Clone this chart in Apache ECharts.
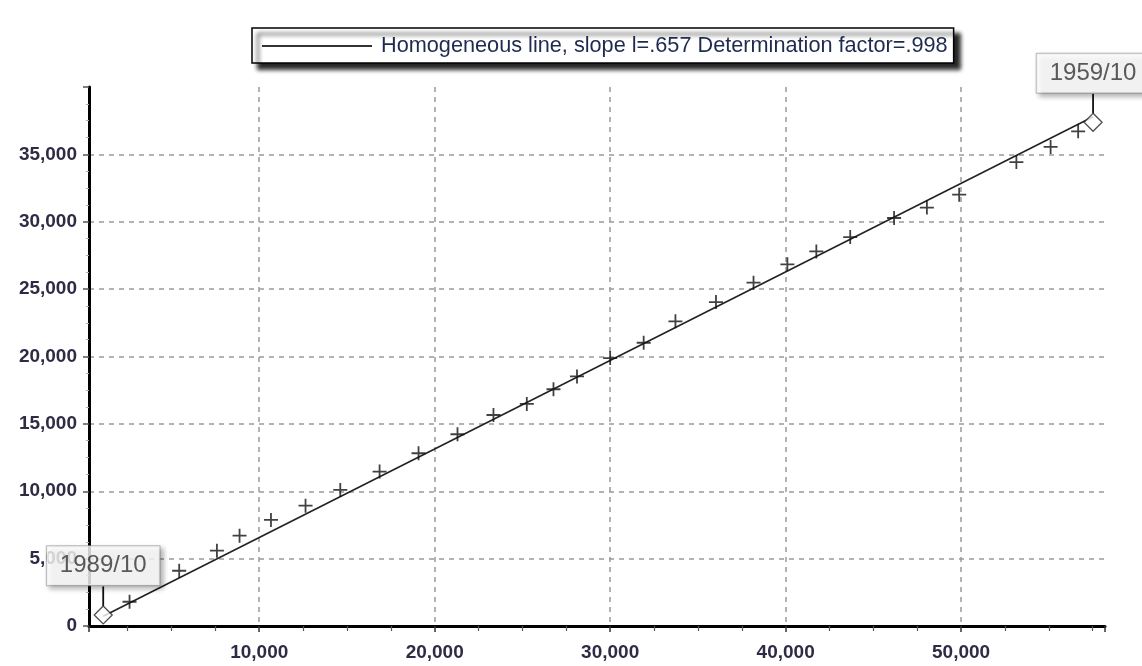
<!DOCTYPE html>
<html>
<head>
<meta charset="utf-8">
<script src="https://cdn.jsdelivr.net/npm/echarts@6/dist/echarts.min.js"></script>
<style>
html,body{margin:0;padding:0;background:#fff;}
#chart{width:1142px;height:666px;}
</style>
</head>
<body>
<div id="chart"></div>
<script>
const lineName = 'Homogeneous line, slope l=.657 Determination factor=.998';

// observed cumulative points (+ markers)
const obsX = [2610, 5440, 7590, 8880, 10670, 12640, 14620, 16860, 19080, 21300, 23350, 25250, 26770,
  28110, 30000, 31910, 33720, 36030, 38170, 40100, 41750, 43680, 46180, 48050, 49890, 53150, 55100, 56670];
const obsY = [1800, 4100, 5590, 6700, 7870, 8930, 10100, 11460, 12820, 14230, 15660, 16480, 17570,
  18520, 19880, 21020, 22610, 24040, 25480, 26840, 27800, 28860, 30280, 31050, 32010, 34430, 35550, 36710];

// first and last points (diamonds) with their period labels
const endX = [1110, 57520];
const endY = [820, 37380];
const endLabels = ['1989/10', '1959/10'];

// homogeneous line end values
const fitX = [1110, 57520];
const fitY = [730, 37790];

// axis ranges
const xMin = 300, xMax = 58200;
const yMin = 0, yMax = 40000, yStep = 5000;

const fmt = v => Math.round(v).toLocaleString('en-US');
const labelFont = { fontFamily: 'Liberation Sans, Arial, sans-serif', fontSize: 19, fontWeight: 'bold', color: '#2e2c44' };

const chart = echarts.init(document.getElementById('chart'), null, { renderer: 'canvas' });

const option = {
  backgroundColor: '#ffffff',
  animation: false,
  grid: { left: 89, right: 37, top: 87, bottom: 40, containLabel: false },
  legend: {
    data: [{ name: lineName, icon: 'rect' }],
    left: 252,
    top: 28,
    padding: [7, 6, 6, 10],
    itemWidth: 110,
    itemHeight: 2,
    itemGap: 0,
    backgroundColor: '#ffffff',
    borderColor: '#000000',
    borderWidth: 1.5,
    borderRadius: 0,
    shadowColor: 'rgba(0,0,0,0.85)',
    shadowBlur: 4,
    shadowOffsetX: 6,
    shadowOffsetY: 6,
    itemStyle: { color: '#333' },
    textStyle: { fontFamily: 'Liberation Sans, Arial, sans-serif', fontSize: 21.7, color: '#1f2a50', padding: [0, 0, 0, 4] }
  },
  xAxis: {
    type: 'value',
    min: xMin,
    max: xMax,
    splitNumber: 6,
    axisLine: { show: true, onZero: false, lineStyle: { color: '#000', width: 3 } },
    axisTick: { show: true, length: 6, lineStyle: { color: '#333', width: 1.5 } },
    minorTick: { show: true, splitNumber: 4, length: 5, lineStyle: { color: '#555', width: 1.2 } },
    axisLabel: Object.assign({ margin: 17, formatter: fmt, showMinLabel: false, showMaxLabel: false }, labelFont),
    splitLine: { show: true, showMinLine: false, showMaxLine: false, lineStyle: { color: '#9a9a9a', width: 1.5, type: [5, 5] } }
  },
  yAxis: {
    type: 'value',
    min: yMin,
    max: yMax,
    interval: yStep,
    axisLine: { show: true, onZero: false, lineStyle: { color: '#000', width: 3 } },
    axisTick: { show: true, length: 6, lineStyle: { color: '#555', width: 1.5 } },
    minorTick: { show: true, splitNumber: 4, length: 3, lineStyle: { color: '#aaa', width: 1 } },
    axisLabel: Object.assign({ margin: 12, formatter: fmt, showMaxLabel: false }, labelFont),
    splitLine: { show: true, showMaxLine: false, lineStyle: { color: '#9a9a9a', width: 1.5, type: [5, 5] } }
  },
  series: [
    {
      name: lineName,
      type: 'line',
      data: fitX.map((x, i) => [x, fitY[i]]),
      symbol: 'none',
      itemStyle: { color: '#222' },
      lineStyle: { color: '#222', width: 1.6 },
      z: 3
    },
    {
      name: 'observed',
      type: 'scatter',
      data: obsX.map((x, i) => [x, obsY[i]]),
      symbol: 'path://M0,7 L14,7 M7,0 L7,14',
      symbolSize: 14,
      itemStyle: { color: 'transparent', borderColor: '#111', borderWidth: 1.8 },
      z: 4
    },
    {
      name: 'ends',
      type: 'scatter',
      data: endX.map((x, i) => ({ value: [x, endY[i]], name: endLabels[i] })),
      symbol: 'diamond',
      symbolSize: 18,
      itemStyle: { color: '#fff', borderColor: '#222', borderWidth: 1.3 },
      label: {
        show: true,
        position: 'top',
        distance: 0,
        formatter: p => p.name,
        fontFamily: 'Liberation Sans, Arial, sans-serif',
        fontSize: 24,
        lineHeight: 27,
        color: '#333',
        backgroundColor: '#fff',
        borderColor: '#aaa',
        borderWidth: 1,
        padding: [6, 13],
        shadowColor: 'rgba(0,0,0,0.35)',
        shadowBlur: 5,
        shadowOffsetX: 3,
        shadowOffsetY: 3
      },
      labelLayout: { dy: -20 },
      labelLine: { show: true, smooth: false, length2: 0, lineStyle: { color: '#111', width: 1.8 } },
      z: 5
    }
  ]
};
chart.setOption(option);
</script>
</body>
</html>
